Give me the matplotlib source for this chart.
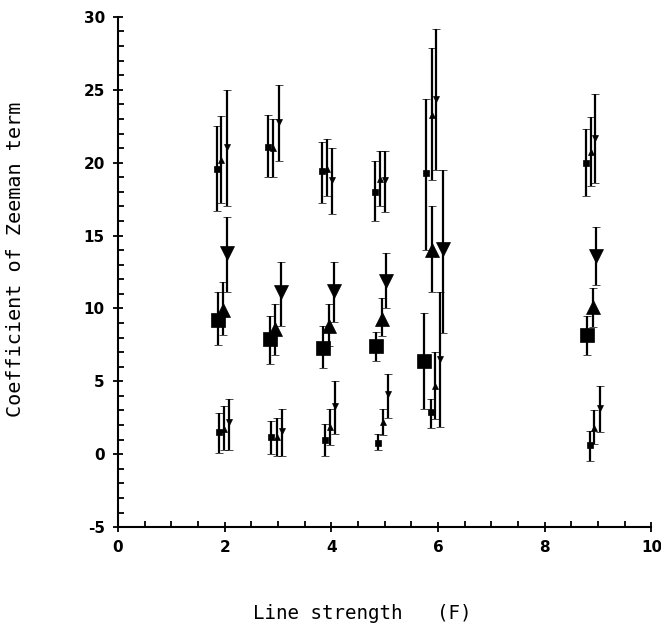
import matplotlib
matplotlib.use("Agg")
import matplotlib.pyplot as plt
from matplotlib.ticker import MultipleLocator
import numpy as np

plt.rcParams['axes.unicode_minus'] = False

# ---- data: (x, y, lower, upper) per series ----
# top level (small markers)
top_sq_x = [1.85, 2.82, 3.82, 4.81, 5.78, 8.77]
top_sq_y = [19.6, 21.1, 19.4, 18.0, 19.3, 20.0]
top_sq_lo = [16.7, 19.0, 17.2, 16.0, 14.0, 17.7]
top_sq_hi = [22.5, 23.3, 21.4, 20.1, 24.4, 22.3]

top_up_x = [1.94, 2.91, 3.92, 4.91, 5.88, 8.86]
top_up_y = [20.2, 21.0, 19.6, 18.9, 23.3, 20.7]
top_up_lo = [17.2, 19.0, 17.7, 17.0, 18.8, 18.4]
top_up_hi = [23.2, 23.0, 21.6, 20.8, 27.9, 23.1]

top_dn_x = [2.04, 3.02, 4.02, 5.01, 5.97, 8.94]
top_dn_y = [21.1, 22.8, 18.8, 18.8, 24.4, 21.7]
top_dn_lo = [17.0, 20.1, 16.5, 16.6, 19.5, 18.6]
top_dn_hi = [25.0, 25.3, 21.0, 20.8, 29.2, 24.7]

# middle level (large markers)
mid_sq_x = [1.87, 2.85, 3.85, 4.83, 5.73, 8.80]
mid_sq_y = [9.2, 7.9, 7.3, 7.4, 6.4, 8.2]
mid_sq_lo = [7.5, 6.2, 5.9, 6.4, 3.1, 6.8]
mid_sq_hi = [11.1, 9.5, 8.8, 8.4, 9.7, 9.5]

mid_up_x = [1.96, 2.95, 3.96, 4.94, 5.88, 8.90]
mid_up_y = [9.9, 8.6, 8.8, 9.3, 14.0, 10.1]
mid_up_lo = [8.2, 6.8, 7.4, 8.1, 11.1, 8.7]
mid_up_hi = [11.8, 10.3, 10.3, 10.7, 17.0, 11.4]

mid_dn_x = [2.05, 3.06, 4.05, 5.02, 6.10, 8.97]
mid_dn_y = [13.8, 11.1, 11.2, 11.9, 14.1, 13.6]
mid_dn_lo = [11.1, 8.8, 9.1, 10.0, 8.3, 11.6]
mid_dn_hi = [16.3, 13.2, 13.2, 13.8, 19.5, 15.6]

# bottom level (small markers)
bot_sq_x = [1.89, 2.87, 3.88, 4.87, 5.86, 8.85]
bot_sq_y = [1.5, 1.2, 1.0, 0.8, 2.9, 0.6]
bot_sq_lo = [0.1, 0.0, -0.1, 0.3, 1.8, -0.5]
bot_sq_hi = [2.8, 2.3, 2.1, 1.4, 3.8, 1.6]

bot_up_x = [1.98, 2.98, 3.97, 4.96, 5.95, 8.93]
bot_up_y = [1.7, 1.2, 1.9, 2.2, 4.7, 1.8]
bot_up_lo = [0.3, -0.1, 0.6, 1.3, 2.4, 0.7]
bot_up_hi = [3.3, 2.5, 3.1, 3.1, 7.0, 3.0]

bot_dn_x = [2.09, 3.08, 4.07, 5.06, 6.04, 9.03]
bot_dn_y = [2.2, 1.6, 3.3, 4.1, 6.5, 3.2]
bot_dn_lo = [0.3, -0.1, 1.4, 2.5, 1.9, 1.5]
bot_dn_hi = [3.8, 3.1, 5.0, 5.5, 11.1, 4.7]

x_label = "Line strength   (F)"
y_label = "Coefficient of Zeeman term"

fig = plt.figure(figsize=(6.61, 6.26), dpi=100)
ax = fig.add_axes([0.1785, 0.158, 0.807, 0.815])

series = [
    (top_sq_x, top_sq_y, top_sq_lo, top_sq_hi, 's', 5),
    (top_up_x, top_up_y, top_up_lo, top_up_hi, '^', 5),
    (top_dn_x, top_dn_y, top_dn_lo, top_dn_hi, 'v', 5),
    (mid_sq_x, mid_sq_y, mid_sq_lo, mid_sq_hi, 's', 9.5),
    (mid_up_x, mid_up_y, mid_up_lo, mid_up_hi, '^', 9.5),
    (mid_dn_x, mid_dn_y, mid_dn_lo, mid_dn_hi, 'v', 10.5),
    (bot_sq_x, bot_sq_y, bot_sq_lo, bot_sq_hi, 's', 5),
    (bot_up_x, bot_up_y, bot_up_lo, bot_up_hi, '^', 5),
    (bot_dn_x, bot_dn_y, bot_dn_lo, bot_dn_hi, 'v', 5),
]
for xs, ys, lo, hi, m, ms in series:
    ys = np.array(ys); lo = np.array(lo); hi = np.array(hi)
    ax.errorbar(xs, ys, yerr=[ys - lo, hi - ys], fmt=m, ms=ms, color='black',
                ecolor='black', elinewidth=1.6, capsize=3.2, capthick=1.6,
                mew=0.5)

ax.set_xlim(0, 10)
ax.set_ylim(-5, 30)
ax.spines['top'].set_visible(False)
ax.spines['right'].set_visible(False)
for s in ('left', 'bottom'):
    ax.spines[s].set_linewidth(1.5)
ax.xaxis.set_major_locator(MultipleLocator(2))
ax.xaxis.set_minor_locator(MultipleLocator(0.5))
ax.yaxis.set_major_locator(MultipleLocator(5))
ax.yaxis.set_minor_locator(MultipleLocator(1))
ax.tick_params(which='major', direction='inout', length=7, width=1.3,
               labelsize=11, pad=6)
ax.tick_params(which='minor', direction='in', length=4, width=1.3)
for lab in ax.get_xticklabels() + ax.get_yticklabels():
    lab.set_fontweight('bold')

ax.set_xlabel(x_label, family='DejaVu Sans Mono', fontsize=13.8)
ax.set_ylabel(y_label, family='DejaVu Sans Mono', fontsize=14.5)
ax.xaxis.set_label_coords(0.457, -0.15)
ax.yaxis.set_label_coords(-0.175, 0.524)

fig.savefig("out.png", dpi=100)
